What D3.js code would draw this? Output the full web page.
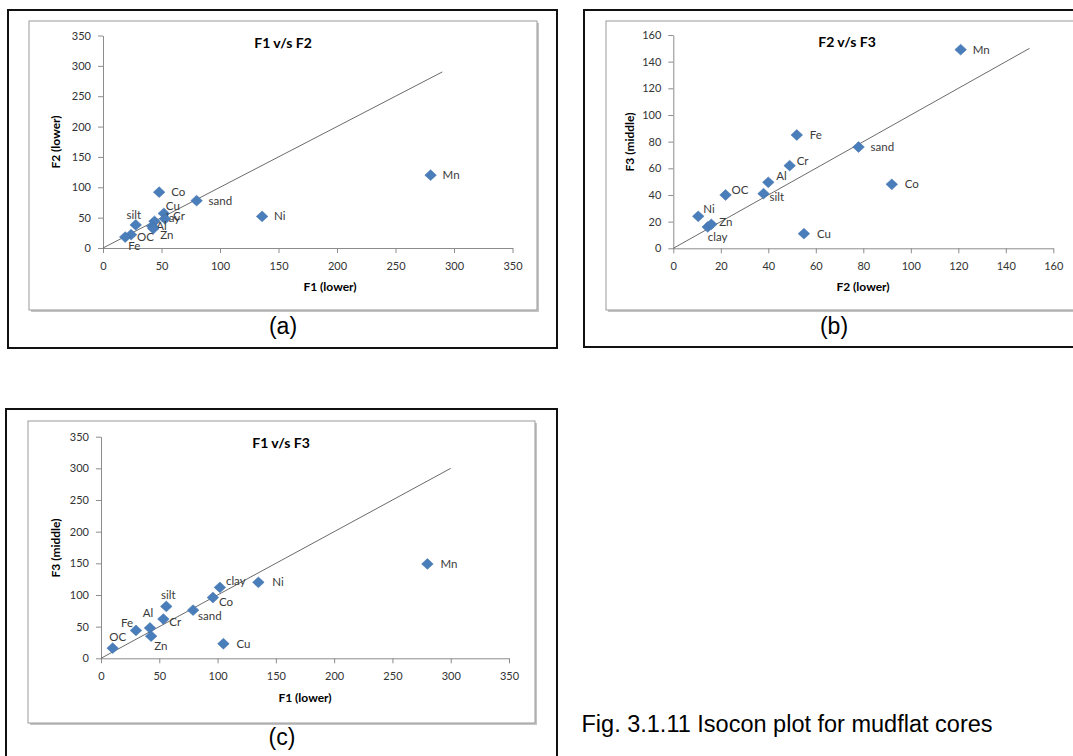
<!DOCTYPE html>
<html>
<head>
<meta charset="utf-8">
<script src="https://cdnjs.cloudflare.com/ajax/libs/d3/7.8.5/d3.min.js"></script>
<style>
  body { margin: 0; background: #fff; }
  svg { display: block; }
</style>
</head>
<body>
<script>
//__data__//
var labels = ["Mn", "Ni", "sand", "Co", "Cu", "silt", "clay", "Cr", "Al", "Zn", "OC", "Fe"];

// (a) F1 v/s F2
var f1_a = [280, 136, 80, 48, 52, 28, 44, 53, 42, 43, 24, 19];
var f2_a = [120, 52, 78, 92, 57, 38, 44, 48, 36, 32, 22, 18];
// (b) F2 v/s F3
var f2_b = [121, 10.5, 78, 92, 55, 38, 14.5, 49, 40, 16, 22, 52];
var f3_b = [149, 24, 76, 48, 11, 41, 16, 62, 49.5, 18, 40, 85];
// (c) F1 v/s F3
var f1_c = [280, 135, 79, 96, 105, 56, 102, 53.5, 42, 43, 10, 30];
var f3_c = [149, 120, 76, 96, 23, 82, 112, 62, 48, 35, 16, 44];

var ticks350 = [0, 50, 100, 150, 200, 250, 300, 350];
var ticks160 = [0, 20, 40, 60, 80, 100, 120, 140, 160];
var isoconEnd = [290, 150, 300];   // where the 1:1 line stops in a, b, c

var W = 1073, H = 756;
var labelFont = "Lato, 'Open Sans', sans-serif";

//__label offsets (px from marker centre), [dx, dy, anchor]__//
var offA = {Mn:[12,4], Ni:[12,4], sand:[12,4], Co:[12,4], Cu:[2,-3], silt:[-2,-6,"middle"],
            clay:[6,1], Cr:[8,1], Al:[4,4], Zn:[7,10], OC:[6,6], Fe:[3,13]};
var offB = {Mn:[12,4], Ni:[5,-3], sand:[12,4], Co:[13,4], Cu:[13,4], silt:[6,7],
            clay:[0,14], Cr:[7,-1], Al:[8,-2], Zn:[8,2], OC:[6,-1], Fe:[13,4]};
var offC = {Mn:[13,4], Ni:[14,4], sand:[5,10], Co:[6,8], Cu:[13,4], silt:[2,-7,"middle"],
            clay:[6,-2], Cr:[6,7], Al:[-2,-11,"middle"], Zn:[3,14], OC:[5,-7,"middle"], Fe:[-3,-3,"end"]};

var svg = d3.select("body").append("svg")
    .attr("width", W)
    .attr("height", H);

function diamond(g, x, y) {
    g.append("path")
        .attr("d", "M0,-5.4L5.8,0L0,5.4L-5.8,0Z")
        .attr("transform", "translate(" + x + "," + y + ")")
        .attr("fill", "#4a7ebb")
        .attr("stroke", "#3f6fa8")
        .attr("stroke-width", 0.5);
}

function drawPanel(p) {
    var g = svg.append("g");

    // outer black frame
    g.append("rect")
        .attr("x", p.box[0]).attr("y", p.box[1])
        .attr("width", p.box[2] - p.box[0]).attr("height", p.box[3] - p.box[1])
        .attr("fill", "none").attr("stroke", "#111").attr("stroke-width", 2);

    // excel chart area with its little shadow
    g.append("rect")
        .attr("x", p.area[0] + 2).attr("y", p.area[1] + 2)
        .attr("width", p.area[2] - p.area[0]).attr("height", p.area[3] - p.area[1])
        .attr("fill", "#c4c4c4");
    g.append("rect")
        .attr("x", p.area[0]).attr("y", p.area[1])
        .attr("width", p.area[2] - p.area[0]).attr("height", p.area[3] - p.area[1])
        .attr("fill", "#fff").attr("stroke", "#9a9a9a").attr("stroke-width", 1);

    var x = d3.scaleLinear().domain([0, p.max]).range(p.xr);
    var y = d3.scaleLinear().domain([0, p.max]).range(p.yr);

    var xAxis = g.append("g")
        .attr("transform", "translate(0," + p.yr[0] + ")")
        .call(d3.axisBottom(x).tickValues(p.ticks).tickSize(5).tickSizeOuter(0).tickPadding(9));
    var yAxis = g.append("g")
        .attr("transform", "translate(" + p.xr[0] + ",0)")
        .call(d3.axisLeft(y).tickValues(p.ticks).tickSize(5).tickSizeOuter(0).tickPadding(7));

    [xAxis, yAxis].forEach(function (a) {
        a.select(".domain").attr("stroke", "#8c8c8c");
        a.selectAll(".tick line").attr("stroke", "#8c8c8c");
        a.selectAll(".tick text")
            .attr("fill", "#333")
            .style("font-family", labelFont)
            .style("font-size", "11px");
    });

    // 1:1 isocon line
    g.append("path")
        .datum([0, p.lineEnd])
        .attr("d", d3.line().x(function (d) { return x(d); }).y(function (d) { return y(d); }))
        .attr("stroke", "#5a5a5a")
        .attr("stroke-width", 0.9)
        .attr("fill", "none");

    // markers + labels
    p.xs.forEach(function (v, i) {
        var cx = x(v), cy = y(p.ys[i]);
        diamond(g, cx, cy);
        var o = p.off[labels[i]];
        g.append("text")
            .attr("x", cx + o[0]).attr("y", cy + o[1])
            .attr("text-anchor", o[2] || "start")
            .attr("fill", "#3a3a3a")
            .style("font-family", labelFont)
            .style("font-size", "11.5px")
            .text(labels[i]);
    });

    // titles
    g.append("text")
        .attr("x", p.title[0]).attr("y", p.title[1])
        .attr("text-anchor", "middle")
        .style("font-family", labelFont).style("font-size", "14px").style("font-weight", "bold")
        .text(p.titleText);
    g.append("text")
        .attr("x", p.xTitle[0]).attr("y", p.xTitle[1])
        .attr("text-anchor", "middle")
        .style("font-family", labelFont).style("font-size", "12px").style("font-weight", "bold")
        .text(p.xTitleText);
    g.append("text")
        .attr("transform", "translate(" + p.yTitle[0] + "," + p.yTitle[1] + ") rotate(-90)")
        .attr("text-anchor", "middle")
        .attr("dy", "0.35em")
        .style("font-family", labelFont).style("font-size", "12px").style("font-weight", "bold")
        .text(p.yTitleText);

    // (a)/(b)/(c)
    g.append("text")
        .attr("x", p.tag[0]).attr("y", p.tag[1])
        .attr("text-anchor", "middle")
        .style("font-family", "'Liberation Sans', Arial, sans-serif").style("font-size", "23px")
        .text(p.tagText);
}

drawPanel({
    box: [8, 10, 557, 348], area: [29, 21, 537, 310],
    max: 350, ticks: ticks350, xr: [103, 512.5], yr: [248, 35.5],
    xs: f1_a, ys: f2_a, off: offA, lineEnd: isoconEnd[0],
    title: [283, 48], titleText: "F1 v/s F2",
    xTitle: [330, 291], xTitleText: "F1 (lower)",
    yTitle: [56, 142], yTitleText: "F2 (lower)",
    tag: [283, 334], tagText: "(a)"
});

drawPanel({
    box: [584, 10, 1100, 347], area: [606, 21, 1100, 310],
    max: 160, ticks: ticks160, xr: [673.3, 1053.3], yr: [248.3, 35],
    xs: f2_b, ys: f3_b, off: offB, lineEnd: isoconEnd[1],
    title: [847, 47], titleText: "F2 v/s F3",
    xTitle: [863, 291], xTitleText: "F2 (lower)",
    yTitle: [630, 142], yTitleText: "F3 (middle)",
    tag: [834, 334], tagText: "(b)"
});

drawPanel({
    box: [6, 409, 557, 780], area: [28, 421, 535, 723],
    max: 350, ticks: ticks350, xr: [101, 509], yr: [658.3, 436.7],
    xs: f1_c, ys: f3_c, off: offC, lineEnd: isoconEnd[2],
    title: [281, 448], titleText: "F1 v/s F3",
    xTitle: [305, 702], xTitleText: "F1 (lower)",
    yTitle: [56, 548], yTitleText: "F3 (middle)",
    tag: [282, 745], tagText: "(c)"
});

//__figure caption__//
svg.append("text")
    .attr("x", 581.5).attr("y", 731.5)
    .style("font-family", "'Liberation Sans', Arial, sans-serif")
    .style("font-size", "23.5px")
    .text("Fig. 3.1.11 Isocon plot for mudflat cores");
</script>
</body>
</html>
